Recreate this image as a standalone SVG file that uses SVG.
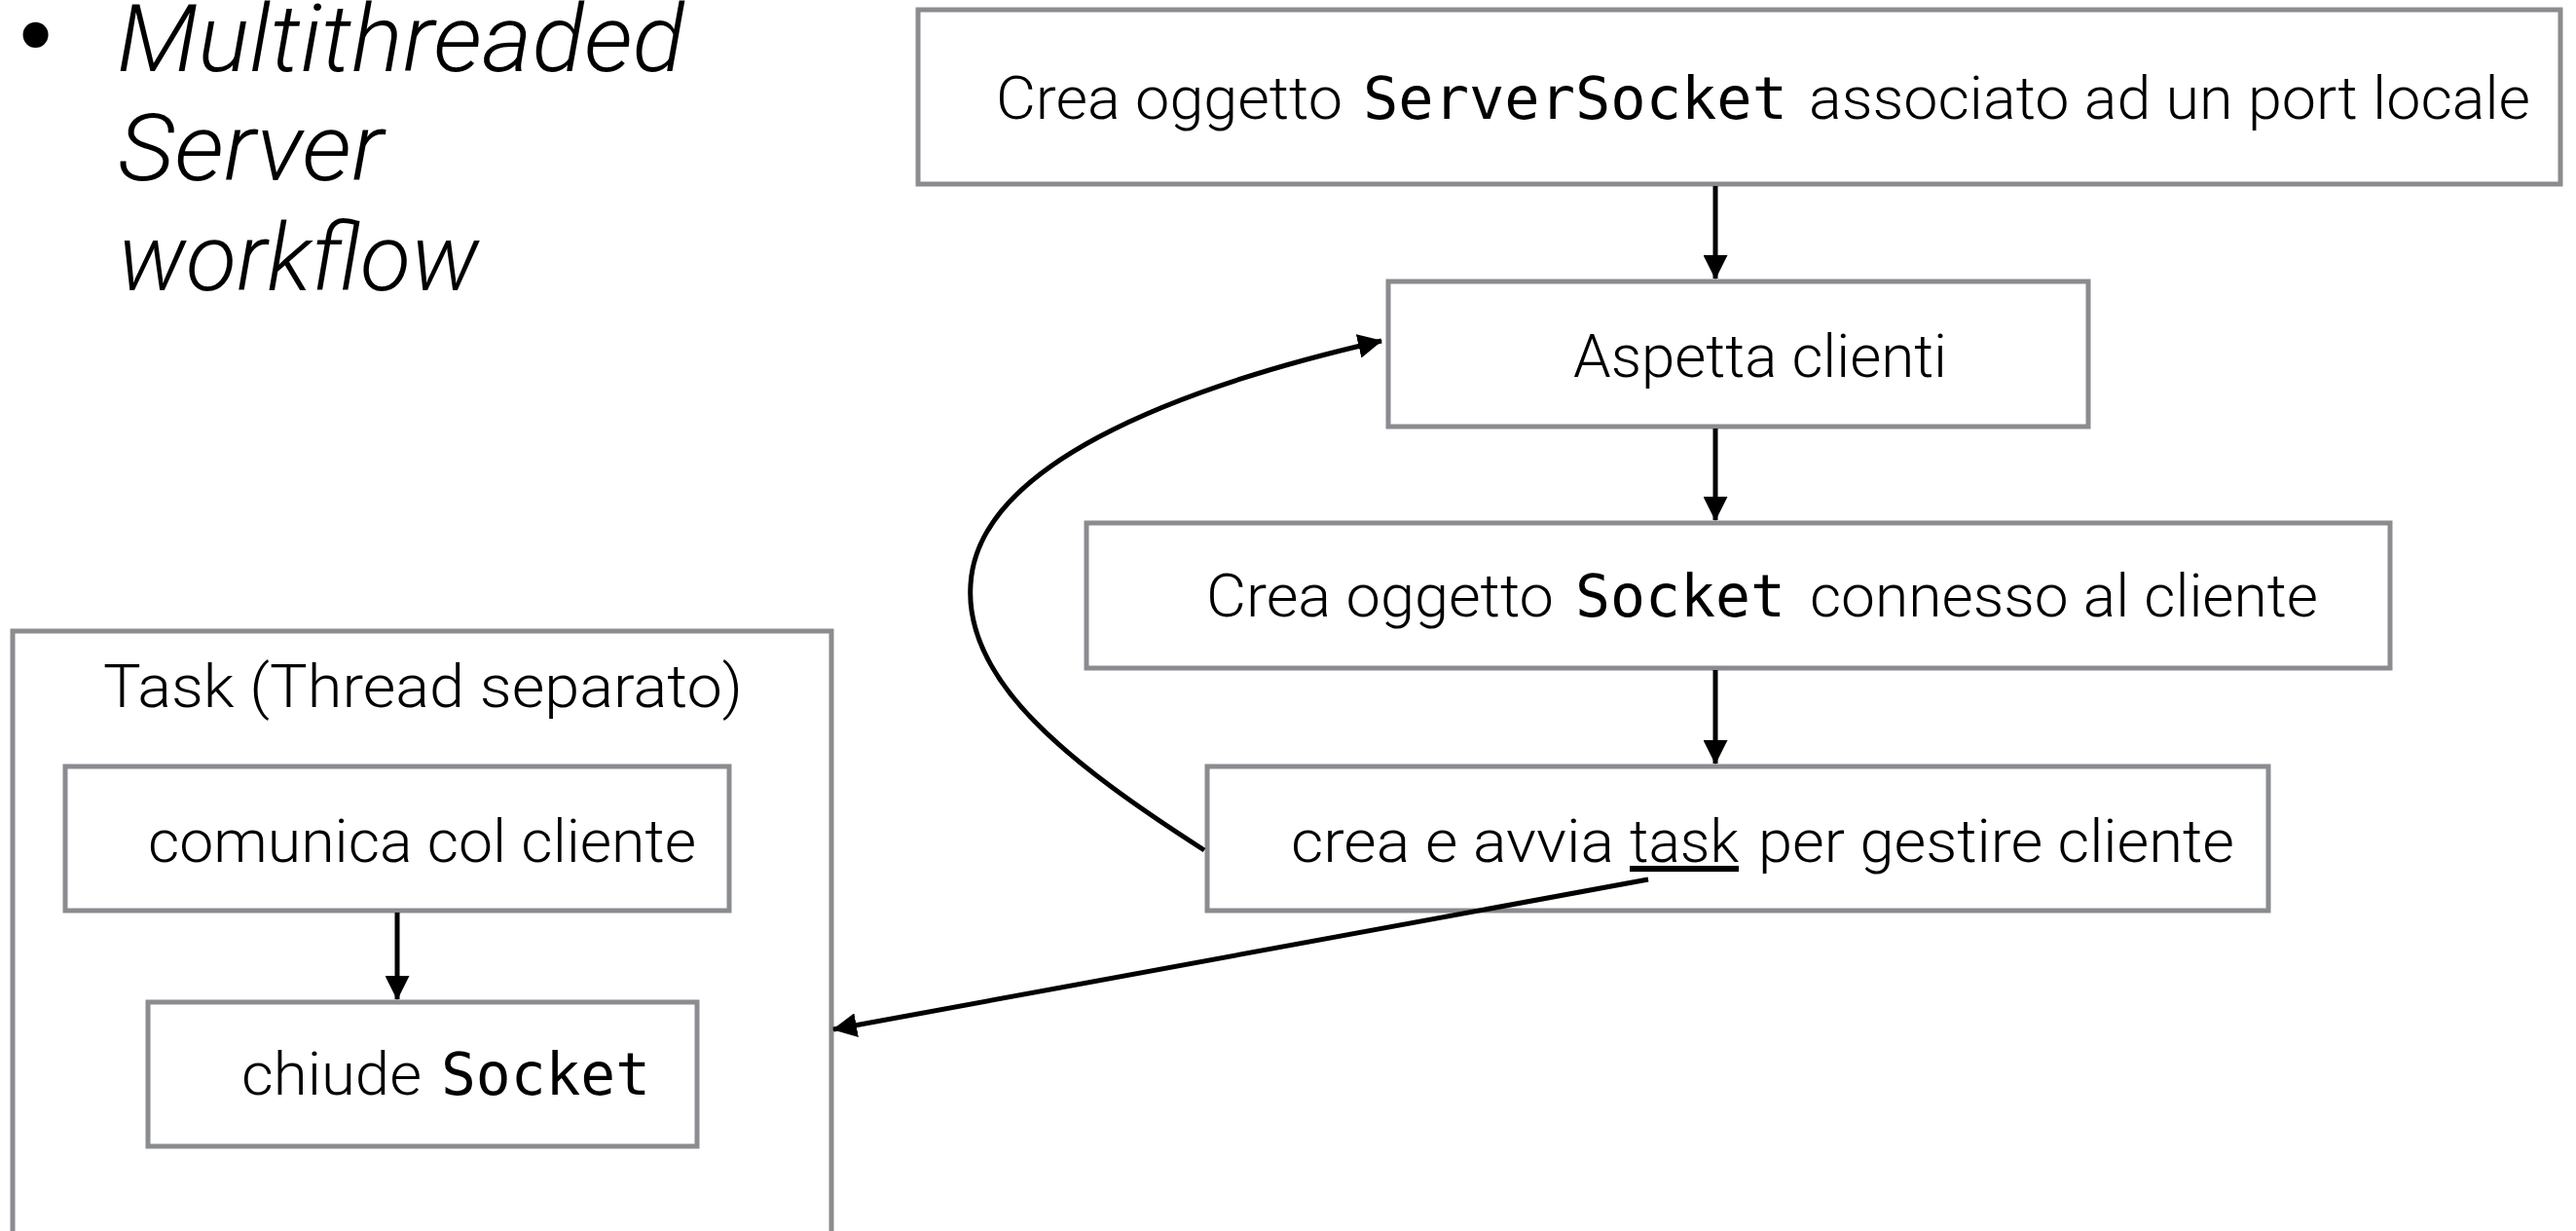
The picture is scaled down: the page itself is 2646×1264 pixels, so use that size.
<svg xmlns="http://www.w3.org/2000/svg" width="2646" height="1264" viewBox="0 0 2646 1264">
<style>
.box{fill:#fff;stroke:#8a8c8f;stroke-width:5}
.t{font-family:Roboto,"Liberation Sans",Arial,sans-serif;font-weight:300;font-size:61px;fill:#000}
.m{font-family:"DejaVu Sans Mono","Liberation Mono",monospace;font-weight:400;font-size:60px}
.title{font-family:Roboto,"Liberation Sans",Arial,sans-serif;font-weight:300;font-style:italic;font-size:96px;fill:#000}
.c{fill:none;stroke:#000;stroke-width:5}
</style>
<defs>
<marker id="ah" markerUnits="userSpaceOnUse" viewBox="0 0 25 25" refX="24" refY="12.5" markerWidth="25" markerHeight="25" orient="auto">
<path d="M0,0 L25,12.5 L0,25 z" fill="#000"/>
</marker>
</defs>
<rect width="2646" height="1264" fill="#fff"/>
<g id="title">
<text x="19" y="68" font-family="'Liberation Sans',Arial,sans-serif" font-style="italic" font-size="96px" fill="#000">•</text>
<text class="title" x="120" y="73" textLength="583" lengthAdjust="spacingAndGlyphs">Multithreaded</text>
<text class="title" x="121" y="185" textLength="273" lengthAdjust="spacingAndGlyphs">Server</text>
<text class="title" x="121" y="298" textLength="371" lengthAdjust="spacingAndGlyphs">workflow</text>
</g>
<g id="n-serversocket">
<rect class="box" x="943" y="10" width="1687" height="179"/>
<text class="t" y="122"><tspan x="1023" textLength="356" lengthAdjust="spacingAndGlyphs">Crea oggetto</tspan> <tspan class="m" x="1400" textLength="436" lengthAdjust="spacingAndGlyphs">ServerSocket</tspan> <tspan x="1858" textLength="741" lengthAdjust="spacingAndGlyphs">associato ad un port locale</tspan></text>
</g>
<g id="n-aspetta">
<rect class="box" x="1426" y="289" width="719" height="149"/>
<text class="t" x="1616" y="387" textLength="384" lengthAdjust="spacingAndGlyphs">Aspetta clienti</text>
</g>
<g id="n-socket">
<rect class="box" x="1116" y="537" width="1339" height="149"/>
<text class="t" y="633"><tspan x="1239" textLength="357" lengthAdjust="spacingAndGlyphs">Crea oggetto</tspan> <tspan class="m" x="1618" textLength="216" lengthAdjust="spacingAndGlyphs">Socket</tspan> <tspan x="1859" textLength="522" lengthAdjust="spacingAndGlyphs">connesso al cliente</tspan></text>
</g>
<g id="n-task">
<rect class="box" x="1240" y="787" width="1090" height="148"/>
<text class="t" y="885"><tspan x="1326" textLength="332" lengthAdjust="spacingAndGlyphs">crea e avvia</tspan> <tspan x="1674" text-decoration="underline" textLength="112" lengthAdjust="spacingAndGlyphs">task</tspan> <tspan x="1806" textLength="489" lengthAdjust="spacingAndGlyphs">per gestire cliente</tspan></text>
</g>
<g id="n-thread">
<rect class="box" x="13" y="648" width="841" height="660"/>
<text class="t" x="106" y="726" textLength="657" lengthAdjust="spacingAndGlyphs">Task (Thread separato)</text>
</g>
<g id="n-comunica">
<rect class="box" x="67" y="787" width="682" height="148"/>
<text class="t" x="152" y="885" textLength="563" lengthAdjust="spacingAndGlyphs">comunica col cliente</text>
</g>
<g id="n-chiude">
<rect class="box" x="152" y="1029" width="564" height="148"/>
<text class="t" y="1124"><tspan x="248" textLength="185" lengthAdjust="spacingAndGlyphs">chiude</tspan> <tspan class="m" x="453" textLength="215" lengthAdjust="spacingAndGlyphs">Socket</tspan></text>
</g>
<g id="connectors">
<line class="c" x1="1762" y1="191" x2="1762" y2="286" marker-end="url(#ah)"/>
<line class="c" x1="1762" y1="440" x2="1762" y2="534" marker-end="url(#ah)"/>
<line class="c" x1="1762" y1="688" x2="1762" y2="784" marker-end="url(#ah)"/>
<line class="c" x1="408" y1="937" x2="408" y2="1026" marker-end="url(#ah)"/>
<path class="c" d="M1237,873 C1100,785 990,700 997,600 C1004,480 1200,400 1419,350" marker-end="url(#ah)"/>
<line class="c" stroke-width="6" x1="1693" y1="903" x2="856" y2="1057" marker-end="url(#ah)"/>
</g>
</svg>
